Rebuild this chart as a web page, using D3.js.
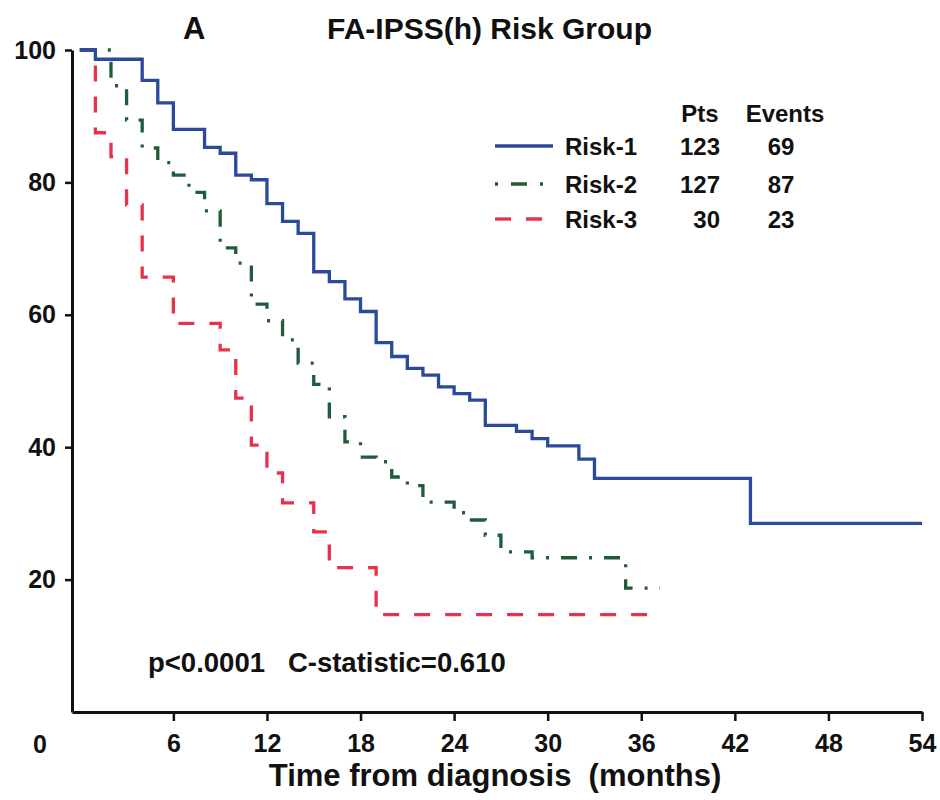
<!DOCTYPE html>
<html><head><meta charset="utf-8">
<script src="https://cdn.jsdelivr.net/npm/d3@7"></script>
<style>
body{margin:0;background:#fff}
text{font-family:"Liberation Sans",Arial,Helvetica,sans-serif;fill:#111}
</style>
</head><body>
<svg id="chart" width="940" height="800"></svg>
<script>
// ---- data ----
const xTicks = [6, 12, 18, 24, 30, 36, 42, 48, 54];
const yTicks = [20, 40, 60, 80, 100];
const groups = ["Risk-1", "Risk-2", "Risk-3"];
const pts = [123, 127, 30];
const events = [69, 87, 23];

const risk1Time = [0, 1, 4, 5, 6, 8, 9, 10, 11, 12, 13, 14, 15, 16, 17, 18, 19, 20, 21, 22, 23, 24, 25, 26, 28, 29, 30, 32, 33, 43, 54];
const risk1Surv = [100, 98.6, 95.4, 92.0, 88.0, 85.3, 84.4, 81.1, 80.4, 76.8, 74.1, 72.3, 66.5, 65.0, 62.4, 60.5, 55.8, 53.7, 51.9, 50.9, 49.1, 48.1, 47.1, 43.3, 42.4, 41.3, 40.2, 38.2, 35.3, 28.5, 28.5];

const risk2Time = [0, 2, 3, 4, 5, 6, 7, 8, 9, 10, 11, 12, 13, 14, 15, 16, 17, 18, 19, 20, 21, 22, 24, 25, 26, 27, 29, 35, 37.2];
const risk2Surv = [100, 94.6, 89.4, 85.2, 83.0, 81.1, 78.5, 75.7, 70.1, 67.8, 61.6, 59.1, 56.2, 52.7, 49.5, 44.6, 40.8, 38.5, 37.8, 35.5, 34.2, 31.7, 30.1, 29.0, 26.7, 24.2, 23.3, 18.7, 18.7];

const risk3Time = [0, 1, 2, 3, 4, 6, 9, 10, 11, 12, 13, 15, 16, 19, 36.4];
const risk3Surv = [100, 87.5, 83.9, 76.6, 65.7, 58.7, 54.7, 47.4, 40.3, 36.1, 31.6, 27.2, 21.8, 14.7, 14.7];

const colors = ["#2b4a9b", "#1f5c3a", "#e8324c"];
const dashes = [null, "16,12,3,12", "16,15"];

// ---- chart ----
const svg = d3.select("#chart");
const x = d3.scaleLinear().domain([-0.5, 54]).range([72, 922]);
const y = d3.scaleLinear().domain([0, 100]).range([712, 50]);
const font = '"Liberation Sans",Arial,sans-serif';

// axes
const gx = svg.append("g").attr("transform", "translate(0,712)")
  .call(d3.axisBottom(x).tickValues(xTicks).tickSize(9).tickSizeOuter(0).tickPadding(13));
const gy = svg.append("g").attr("transform", "translate(72,0)")
  .call(d3.axisLeft(y).tickValues(yTicks).tickSize(7).tickSizeOuter(0).tickPadding(9));
[gx, gy].forEach(g => {
  g.select(".domain").attr("stroke", "#111").attr("stroke-width", 3);
  g.selectAll(".tick line").attr("stroke", "#111").attr("stroke-width", 2.5);
  g.selectAll(".tick text").attr("font-size", 25).attr("font-weight", "bold")
    .attr("font-family", font).attr("fill", "#111");
});
// origin label
svg.append("text").attr("x", 40).attr("y", 753).attr("text-anchor", "middle")
  .attr("font-size", 25).attr("font-weight", "bold").text("0");

// curves
const series = [
  {t: risk1Time, s: risk1Surv},
  {t: risk2Time, s: risk2Surv},
  {t: risk3Time, s: risk3Surv}
];
const line = d3.line().curve(d3.curveStepAfter).x(d => x(d[0])).y(d => y(d[1]));
[2, 1, 0].forEach(i => {
  const d = series[i].t.map((t, k) => [t, series[i].s[k]]);
  svg.append("path").datum(d).attr("d", line)
    .attr("fill", "none").attr("stroke", colors[i]).attr("stroke-width", 3.3)
    .attr("stroke-dasharray", dashes[i]);
});

// titles
svg.append("text").attr("x", 183).attr("y", 39).attr("font-size", 31)
  .attr("font-weight", "bold").text("A");
svg.append("text").attr("x", 327).attr("y", 39).attr("font-size", 30)
  .attr("font-weight", "bold").text("FA-IPSS(h) Risk Group");

// legend
const legRows = [146, 184, 219];
svg.append("text").attr("x", 700).attr("y", 122).attr("text-anchor", "middle")
  .attr("font-size", 24).attr("font-weight", "bold").text("Pts");
svg.append("text").attr("x", 785).attr("y", 122).attr("text-anchor", "middle")
  .attr("font-size", 24).attr("font-weight", "bold").text("Events");
groups.forEach((g, i) => {
  const yy = legRows[i];
  svg.append("line").attr("x1", 495).attr("x2", 553).attr("y1", yy).attr("y2", yy)
    .attr("stroke", colors[i]).attr("stroke-width", 3.3)
    .attr("stroke-dasharray", i === 1 ? "3,13,16,13" : dashes[i]);
  svg.append("text").attr("x", 565).attr("y", yy + 8.5).attr("font-size", 24)
    .attr("font-weight", "bold").text(g);
  svg.append("text").attr("x", 720).attr("y", yy + 8.5).attr("text-anchor", "end")
    .attr("font-size", 24).attr("font-weight", "bold").text(pts[i]);
  svg.append("text").attr("x", 781).attr("y", yy + 8.5).attr("text-anchor", "middle")
    .attr("font-size", 24).attr("font-weight", "bold").text(events[i]);
});

// statistics annotation
svg.append("text").attr("x", 148).attr("y", 672).attr("font-size", 27.5)
  .attr("font-weight", "bold").attr("xml:space", "preserve")
  .style("white-space", "pre").text("p<0.0001   C-statistic=0.610");

// x axis title
svg.append("text").attr("x", 495).attr("y", 786).attr("text-anchor", "middle")
  .attr("font-size", 31).attr("font-weight", "bold").style("white-space", "pre")
  .text("Time from diagnosis  (months)");
</script>
</body></html>
